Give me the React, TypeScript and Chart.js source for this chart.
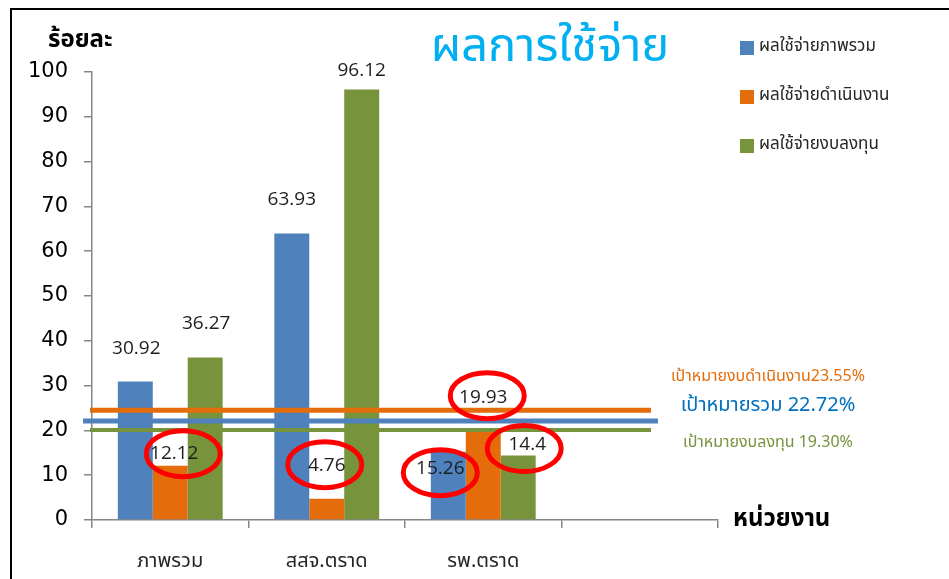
import React, { useEffect, useRef } from 'react';
import { Chart, registerables } from 'chart.js';

Chart.register(...registerables);

const categories = ['ภาพรวม', 'สสจ.ตราด', 'รพ.ตราด', ''];
const seriesNames = ['ผลใช้จ่ายภาพรวม', 'ผลใช้จ่ายดำเนินงาน', 'ผลใช้จ่ายงบลงทุน'];
const overallValues = [30.92, 63.93, 15.26, null];
const operatingValues = [12.12, 4.76, 19.93, null];
const investmentValues = [36.27, 96.12, 14.4, null];
const yTickValues = [0, 10, 20, 30, 40, 50, 60, 70, 80, 90, 100];

const chartTitle = 'ผลการใช้จ่าย';
const yAxisTitle = 'ร้อยละ';
const xAxisTitle = 'หน่วยงาน';

const targetLabels = ['เป้าหมายงบดำเนินงาน23.55%', 'เป้าหมายรวม 22.72%', 'เป้าหมายงบลงทุน 19.30%'];
// level at which each target line is drawn
const targetLineLevels = [24.5, 22.1, 20.1];

// [datasetIndex, categoryIndex] of labels circled in red
const circledPoints = [
  [1, 0],
  [1, 1],
  [0, 2],
  [1, 2],
  [2, 2],
];

// style: label nudges [dx, dy above bar top] per dataset / category
const labelNudges = [
  [[1, 33], [0, 34], [-8, -17]],
  [[4, 12], [0, 33], [0, 33]],
  [[1, 34], [0, 19], [9, 11]],
];
// style: ellipse centre nudges relative to circled labels
const ellipseNudges = [[9, 0], [-2, -1], [0, 4], [4, -2], [-3, 4]];

const COLORS = ['#4F81BD', '#E46C0A', '#77933C'];
const THAI = "'Noto Sans Thai', Tahoma, 'Leelawadee UI', 'DejaVu Sans', sans-serif";

const overlayPlugin = {
  id: 'overlay',
  afterDatasetsDraw(chart: any) {
    const ctx = chart.ctx;
    const y = chart.scales.y;
    const area = chart.chartArea;
    const lineSpecs = [
      { color: '#E46C0A', width: 5, x0: area.left - 2, x1: area.left + 559 },
      { color: '#4F81BD', width: 5, x0: area.left - 9, x1: area.left + 566 },
      { color: '#77933C', width: 4, x0: area.left - 2, x1: area.left + 559 },
    ];
    ctx.save();
    targetLineLevels.forEach((lvl, i) => {
      const py = y.getPixelForValue(lvl);
      const s = lineSpecs[i];
      ctx.strokeStyle = s.color;
      ctx.lineWidth = s.width;
      ctx.beginPath();
      ctx.moveTo(s.x0, py);
      ctx.lineTo(s.x1, py);
      ctx.stroke();
    });
    ctx.restore();
  },
  afterDraw(chart: any) {
    const ctx = chart.ctx;
    ctx.save();

    // data labels
    ctx.font = "19px 'Open Sans', 'DejaVu Sans', sans-serif";
    ctx.fillStyle = '#1e1e1e';
    ctx.textAlign = 'center';
    ctx.textBaseline = 'middle';
    const labelPos: any = {};
    chart.data.datasets.forEach((ds: any, di: number) => {
      const meta = chart.getDatasetMeta(di);
      ds.data.forEach((v: any, ci: number) => {
        if (v === null || v === undefined) return;
        const el = meta.data[ci];
        const n = labelNudges[di][ci];
        const lx = el.x + n[0];
        const ly = el.y - n[1];
        labelPos[di + '_' + ci] = [lx, ly];
        ctx.fillText(String(v), lx, ly);
      });
    });

    // red ellipses
    ctx.strokeStyle = '#FF0000';
    ctx.lineWidth = 5;
    circledPoints.forEach(([di, ci], k) => {
      const p = labelPos[di + '_' + ci];
      if (!p) return;
      const en = ellipseNudges[k];
      ctx.beginPath();
      ctx.ellipse(p[0] + en[0], p[1] + en[1], 37, 23, 0, 0, Math.PI * 2);
      ctx.stroke();
    });

    // title
    ctx.fillStyle = '#00B0F0';
    ctx.font = `47px ${THAI}`;
    ctx.textAlign = 'center';
    ctx.fillText(chartTitle, 550, 51);

    // axis titles
    ctx.fillStyle = '#000000';
    ctx.font = `bold 24px ${THAI}`;
    ctx.textAlign = 'left';
    ctx.fillText(yAxisTitle, 48, 42);
    ctx.font = `bold 24px ${THAI}`;
    ctx.fillText(xAxisTitle, 733, 521);

    // target labels
    ctx.textAlign = 'center';
    ctx.fillStyle = '#E46C0A';
    ctx.font = `16px ${THAI}`;
    ctx.fillText(targetLabels[0], 768, 378);
    ctx.fillStyle = '#0070C0';
    ctx.font = `20px ${THAI}`;
    ctx.fillText(targetLabels[1], 768, 407);
    ctx.fillStyle = '#77933C';
    ctx.font = `16px ${THAI}`;
    ctx.fillText(targetLabels[2], 768, 444);

    // legend
    ctx.textAlign = 'left';
    ctx.font = `17px ${THAI}`;
    seriesNames.forEach((name, i) => {
      const cy = 48 + i * 49;
      ctx.fillStyle = COLORS[i];
      ctx.fillRect(740, cy - 7, 14, 14);
      ctx.fillStyle = '#262626';
      ctx.fillText(name, 759, cy);
    });

    ctx.restore();
  },
};

export default function App() {
  const ref = useRef<HTMLCanvasElement | null>(null);

  useEffect(() => {
    document.body.style.margin = '0';
    document.body.style.overflow = 'hidden';
    const canvas = ref.current;
    if (!canvas) return;
    const chart = new Chart(canvas, {
      type: 'bar',
      data: {
        labels: categories,
        datasets: [
          { label: seriesNames[0], data: overallValues, backgroundColor: COLORS[0] },
          { label: seriesNames[1], data: operatingValues, backgroundColor: COLORS[1] },
          { label: seriesNames[2], data: investmentValues, backgroundColor: COLORS[2] },
        ],
      },
      options: {
        responsive: false,
        animation: false,
        devicePixelRatio: 1,
        layout: { padding: { left: 0, right: 231, top: 72, bottom: 0 } },
        datasets: { bar: { categoryPercentage: 0.67, barPercentage: 1.0 } },
        plugins: { legend: { display: false }, tooltip: { enabled: false }, title: { display: false } },
        scales: {
          x: {
            type: 'category',
            offset: true,
            grid: { display: true, drawOnChartArea: false, offset: true, tickLength: 8, color: '#868686', lineWidth: 1.5 },
            border: { color: '#868686', width: 1.5 },
            ticks: { font: { family: THAI, size: 20 }, color: '#262626', padding: 23 },
            afterFit: (s: any) => { s.height = 59; },
          },
          y: {
            min: 0,
            max: 100,
            afterBuildTicks: (s: any) => { s.ticks = yTickValues.map((v) => ({ value: v })); },
            grid: { display: true, drawOnChartArea: false, tickLength: 8, color: '#868686', lineWidth: 1.5 },
            border: { color: '#868686', width: 1.5 },
            ticks: { font: { family: "'DejaVu Sans', sans-serif", size: 21 }, color: '#000000', padding: 16 },
            afterFit: (s: any) => { s.width = 92; },
          },
        },
      },
      plugins: [overlayPlugin],
    } as any);
    return () => chart.destroy();
  }, []);

  return (
    <div style={{ position: 'fixed', left: 0, top: 0, width: 949, height: 579, background: '#ffffff', overflow: 'hidden' }}>
      <canvas ref={ref} width={949} height={579} style={{ position: 'absolute', left: 0, top: 0, width: 949, height: 579 }} />
      <div style={{ position: 'absolute', left: 10, top: 8, width: 1200, height: 800, borderLeft: '2px solid #000', borderTop: '2px solid #000', pointerEvents: 'none' }} />
    </div>
  );
}
